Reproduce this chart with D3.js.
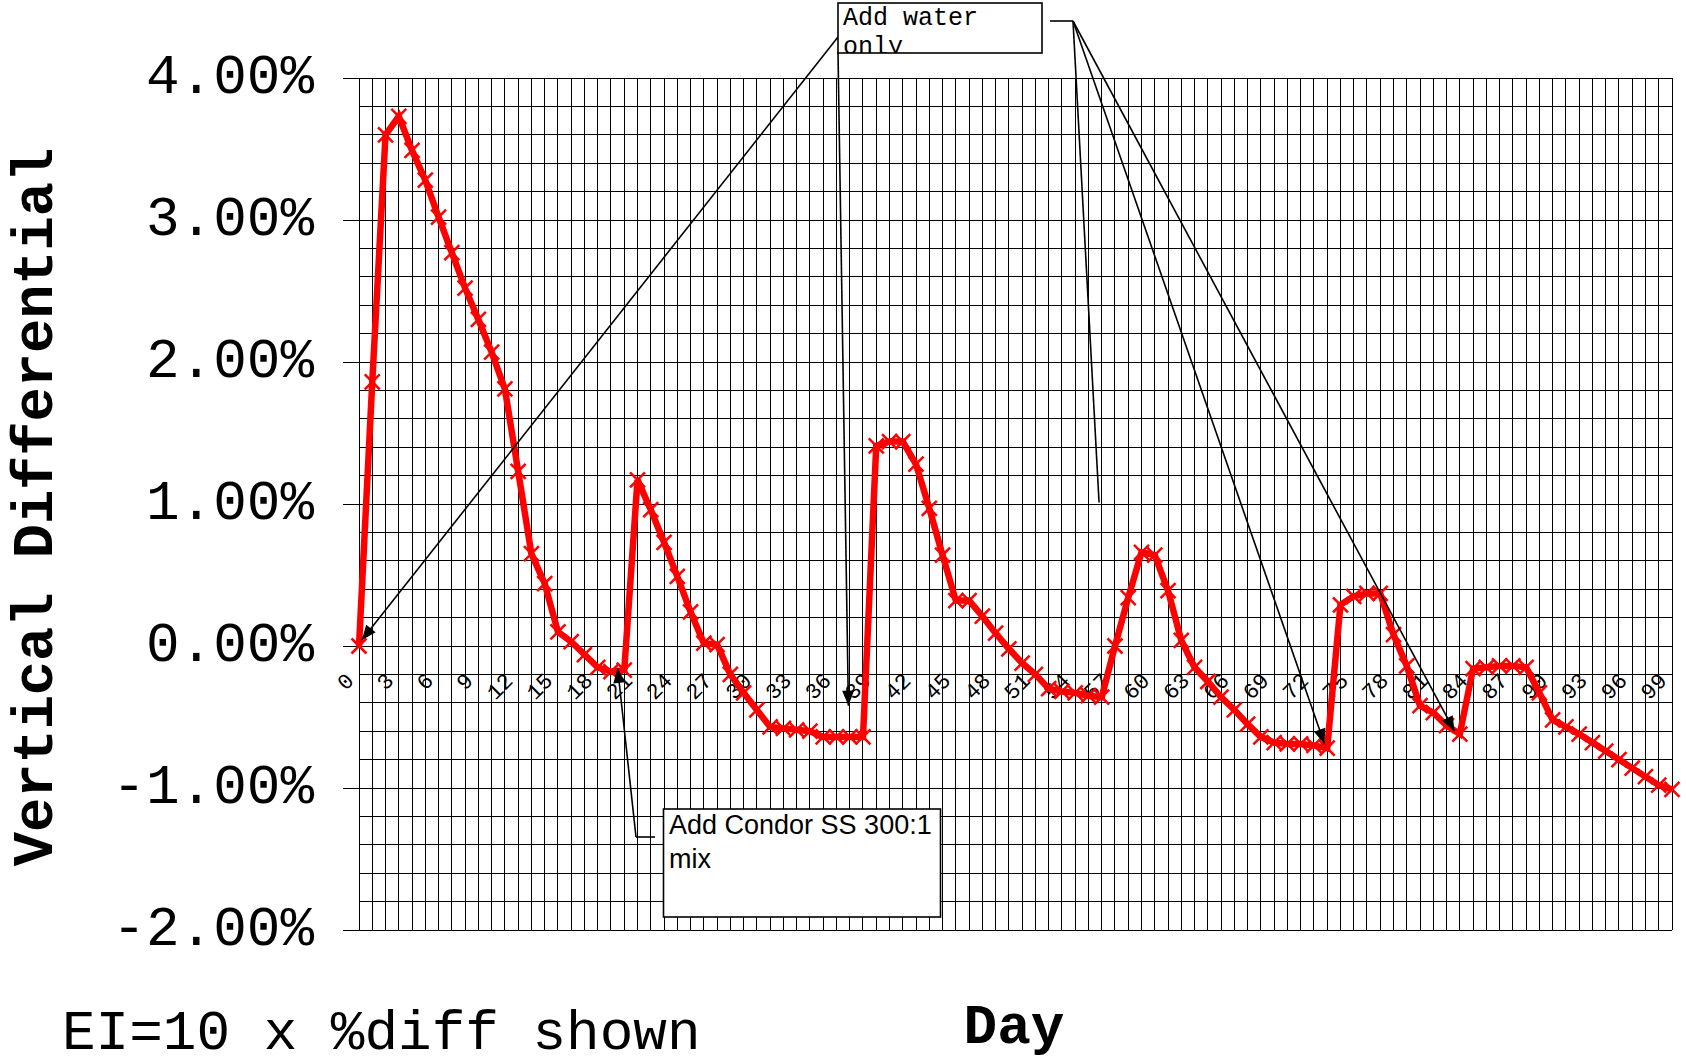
<!DOCTYPE html>
<html><head><meta charset="utf-8">
<script src="https://cdn.jsdelivr.net/npm/d3@7/dist/d3.min.js"></script>
<style>html,body{margin:0;padding:0;background:#fff;overflow:hidden}</style>
</head><body>
<svg id="chart" width="1686" height="1059"></svg>
<script>
// ---- data (percent values, one per day, day = index 0..99) ----
const values = [
  0.00, 1.86, 3.60, 3.73, 3.49, 3.28, 3.02, 2.77, 2.52, 2.30,
  2.07, 1.81, 1.23, 0.65, 0.44, 0.10, 0.03, -0.06, -0.15, -0.18,
  -0.17, 1.17, 0.96, 0.73, 0.49, 0.24, 0.02, 0.01, -0.20, -0.33,
  -0.45, -0.57, -0.58, -0.59, -0.60, -0.64, -0.64, -0.64, -0.64, 1.41,
  1.44, 1.44, 1.28, 0.97, 0.64, 0.32, 0.32, 0.21, 0.09, -0.02,
  -0.12, -0.20, -0.30, -0.32, -0.33, -0.35, -0.36, 0.00, 0.34, 0.66,
  0.64, 0.39, 0.04, -0.15, -0.25, -0.36, -0.45, -0.55, -0.64, -0.68,
  -0.69, -0.69, -0.70, -0.72, 0.29, 0.35, 0.37, 0.37, 0.08, -0.14,
  -0.42, -0.47, -0.56, -0.62, -0.16, -0.15, -0.14, -0.14, -0.15, -0.33,
  -0.52, -0.57, -0.62, -0.68, -0.74, -0.80, -0.86, -0.92, -0.98, -1.01
];
const xTickDays = [0,3,6,9,12,15,18,21,24,27,30,33,36,39,42,45,48,51,54,57,60,63,66,69,72,75,78,81,84,87,90,93,96,99];
const yTickValues = [-2, -1, 0, 1, 2, 3, 4];
const yTitle = "Vertical Differential";
const xTitle = "Day";
const footNote = "EI=10 x %diff shown";
const waterLines = ["Add water", "only"];
const condorLines = ["Add Condor SS 300:1", "mix"];
// annotation targets in data coordinates (day, percent)
const waterLeftTargets = [{day: 0.2, value: 0.04, arrow: true}, {day: 36.9, value: -0.42, arrow: true}];
const waterRightTargets = [{day: 55.8, value: 1.01, arrow: false}, {day: 72.8, value: -0.69, arrow: true}, {day: 82.6, value: -0.6, arrow: true}];
const condorTarget = {day: 19.5, value: -0.155};

// ---- layout ----
const W = 1686, H = 1059;
const x = d3.scaleLinear().domain([0, 99]).range([359, 1672]);
const y = d3.scaleLinear().domain([-2, 4]).range([930, 78]);
const mono = "'Liberation Mono','Courier New',monospace";
const sans = "'Liberation Sans',Arial,sans-serif";

const svg = d3.select("#chart");
svg.append("rect").attr("width", W).attr("height", H).attr("fill", "#fff");

// grid
const grid = svg.append("g").attr("stroke", "#000").attr("stroke-width", 1).attr("shape-rendering", "crispEdges");
grid.selectAll("line.v").data(d3.range(0, 100)).join("line")
  .attr("class", "v").attr("x1", d => x(d)).attr("x2", d => x(d)).attr("y1", y(4)).attr("y2", y(-2));
grid.selectAll("line.h").data(d3.range(0, 31).map(i => -2 + i * 0.2)).join("line")
  .attr("class", "h").attr("x1", x(0)).attr("x2", x(99)).attr("y1", d => y(d)).attr("y2", d => y(d));

// y axis
const yAxis = svg.append("g").attr("transform", `translate(${x(0)},0)`)
  .call(d3.axisLeft(y).tickValues(yTickValues).tickSize(16).tickPadding(29)
    .tickFormat(d => d.toFixed(2) + "%"));
yAxis.select(".domain").attr("stroke", "#000").attr("shape-rendering", "crispEdges");
yAxis.selectAll(".tick line").attr("stroke", "#000").attr("shape-rendering", "crispEdges");
yAxis.selectAll(".tick text").attr("font-family", mono).attr("font-size", 56).attr("fill", "#000").attr("dy", "0.26em");

// x axis labels (at 0%)
const xAxis = svg.append("g").attr("transform", `translate(0,${y(0)})`)
  .call(d3.axisBottom(x).tickValues(xTickDays).tickSize(0).tickFormat(d => String(d)));
xAxis.select(".domain").remove();
xAxis.selectAll(".tick text")
  .attr("font-family", mono).attr("font-size", 22).attr("fill", "#000")
  .attr("text-anchor", "end").attr("x", -4.5).attr("y", 36).attr("dy", 0)
  .attr("transform", "rotate(-45,-4.5,36)");

// series
const line = d3.line().x((d, i) => x(i)).y(d => y(d));
svg.append("path").datum(values).attr("d", line)
  .attr("fill", "none").attr("stroke", "#ff0000").attr("stroke-width", 6.5).attr("stroke-linejoin", "miter");
svg.append("g").selectAll("path").data(values).join("path")
  .attr("transform", (d, i) => `translate(${x(i)},${y(d)})`)
  .attr("d", "M-7.5,-7.5L7.5,7.5M-7.5,7.5L7.5,-7.5")
  .attr("stroke", "#ff0000").attr("stroke-width", 2.5).attr("fill", "none");

// annotations
const ann = svg.append("g");
function arrowTo(x0, y0, x1, y1, head) {
  ann.append("line").attr("x1", x0).attr("y1", y0).attr("x2", x1).attr("y2", y1)
    .attr("stroke", "#000").attr("stroke-width", 1.6);
  if (head) {
    const a = Math.atan2(y1 - y0, x1 - x0), L = 15, Wd = 6;
    const bx = x1 - L * Math.cos(a), by = y1 - L * Math.sin(a);
    const px = -Math.sin(a) * Wd, py = Math.cos(a) * Wd;
    ann.append("path").attr("d", `M${x1},${y1}L${bx + px},${by + py}L${bx - px},${by - py}Z`).attr("fill", "#000");
  }
}
// water box lines
arrowTo(838, 37, x(waterLeftTargets[0].day), y(waterLeftTargets[0].value), true);
arrowTo(838, 52, x(waterLeftTargets[1].day), y(waterLeftTargets[1].value), true);
ann.append("line").attr("x1", 1050).attr("y1", 21).attr("x2", 1073).attr("y2", 21).attr("stroke", "#000").attr("stroke-width", 1.6);
waterRightTargets.forEach(t => arrowTo(1073, 21, x(t.day), y(t.value), t.arrow));
// condor lines
ann.append("polyline").attr("points", `655,837 636,837`).attr("stroke", "#000").attr("stroke-width", 1.6).attr("fill", "none");
arrowTo(636, 837, x(condorTarget.day), y(condorTarget.value), true);

// water box
svg.append("clipPath").attr("id", "wclip").append("rect").attr("x", 838).attr("y", 3).attr("width", 204).attr("height", 50);
svg.append("rect").attr("x", 838).attr("y", 3).attr("width", 204).attr("height", 50)
  .attr("fill", "#fff");
const wt = svg.append("g").attr("clip-path", "url(#wclip)");
waterLines.forEach((s, i) => wt.append("text").attr("x", 843).attr("y", 25 + i * 29)
  .attr("font-family", mono).attr("font-size", 25).attr("fill", "#000").text(s));
svg.append("rect").attr("x", 838).attr("y", 3).attr("width", 204).attr("height", 50)
  .attr("fill", "none").attr("stroke", "#000").attr("stroke-width", 1.6);

// condor box
svg.append("rect").attr("x", 663.5).attr("y", 809).attr("width", 277).attr("height", 108)
  .attr("fill", "#fff").attr("stroke", "#000").attr("stroke-width", 1.6);
condorLines.forEach((s, i) => svg.append("text").attr("x", 669).attr("y", 834 + i * 34)
  .attr("font-family", sans).attr("font-size", 27).attr("fill", "#000").text(s));

// titles
svg.append("text").attr("transform", "translate(52,507) rotate(-90)")
  .attr("text-anchor", "middle").attr("font-family", mono).attr("font-weight", "bold")
  .attr("font-size", 57).attr("fill", "#000").text(yTitle);
svg.append("text").attr("x", 1014).attr("y", 1043).attr("text-anchor", "middle")
  .attr("font-family", mono).attr("font-weight", "bold").attr("font-size", 56).attr("fill", "#000").text(xTitle);
svg.append("text").attr("x", 62).attr("y", 1049)
  .attr("font-family", mono).attr("font-size", 56).attr("fill", "#000").text(footNote);
</script>
</body></html>
